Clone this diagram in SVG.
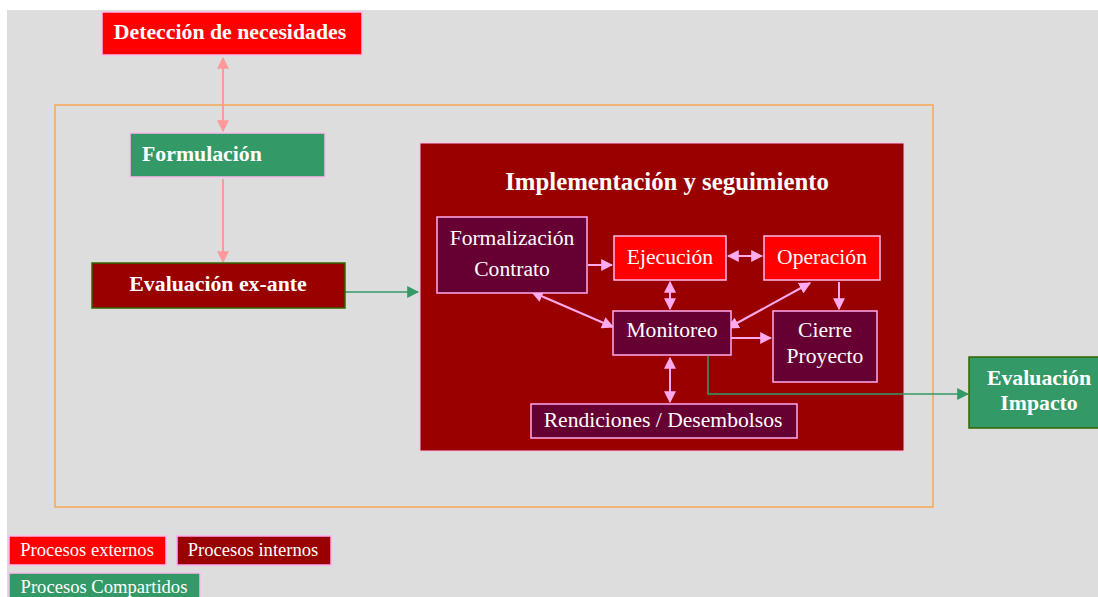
<svg xmlns="http://www.w3.org/2000/svg" width="1098" height="597" viewBox="0 0 1098 597" font-family="Liberation Serif, serif">
<defs>
<style>
.bt{font-weight:bold;fill:#ffffff;font-size:21.8px;}
.rt{fill:#ffffff;font-size:21.6px;}
.lg{fill:#ffffff;font-size:18.6px;}
.ext{fill:#ff0000;stroke:#ffbbee;stroke-width:1.5;}
.int{fill:#660033;stroke:#ffaaee;stroke-width:1.5;}
.sh{fill:#339966;stroke:#ffbbee;stroke-width:1.5;}
.pk{stroke:#ffaaee;stroke-width:2;fill:none;}
.sal{stroke:#ff9999;stroke-width:2;fill:none;}
.gr{stroke:#339966;stroke-width:1.5;fill:none;}
</style>
<marker id="mp" viewBox="0 0 10 10" refX="9" refY="5" markerWidth="12" markerHeight="12" markerUnits="userSpaceOnUse" orient="auto-start-reverse"><path d="M0,0 L10,5 L0,10 z" fill="#ffaaee"/></marker>
<marker id="ms" viewBox="0 0 10 10" refX="9" refY="5" markerWidth="12" markerHeight="12" markerUnits="userSpaceOnUse" orient="auto-start-reverse"><path d="M0,0 L10,5 L0,10 z" fill="#ff9999"/></marker>
<marker id="mg" viewBox="0 0 10 10" refX="9" refY="5" markerWidth="12" markerHeight="12" markerUnits="userSpaceOnUse" orient="auto-start-reverse"><path d="M0,0 L10,5 L0,10 z" fill="#339966"/></marker>
</defs>
<rect x="0" y="0" width="1098" height="597" fill="#ffffff"/>
<rect x="7" y="10" width="1091" height="587" fill="#dddddd"/>
<rect id="scope" x="55" y="105" width="878" height="402" fill="none" stroke="#ff9933" stroke-width="1.2"/>

<g id="impl">
<rect x="420" y="143" width="484" height="308" fill="#990000" stroke="#ffbbee" stroke-width="1"/>
<text class="bt" x="667" y="190" style="font-size:24.8px" text-anchor="middle">Implementación y seguimiento</text>
</g>

<g id="connectors">
<line class="sal" x1="223" y1="58" x2="223" y2="131" marker-start="url(#ms)" marker-end="url(#ms)"/>
<line class="sal" x1="223" y1="179" x2="223" y2="262" marker-end="url(#ms)"/>
<line class="gr" x1="345" y1="292" x2="418" y2="292" marker-end="url(#mg)"/>
<line class="pk" x1="588" y1="265" x2="612" y2="265" marker-end="url(#mp)"/>
<line class="pk" x1="728" y1="256" x2="762" y2="256" marker-start="url(#mp)" marker-end="url(#mp)"/>
<line class="pk" x1="670" y1="282" x2="670" y2="309" marker-start="url(#mp)" marker-end="url(#mp)"/>
<line class="pk" x1="532" y1="292" x2="613" y2="327" marker-start="url(#mp)" marker-end="url(#mp)"/>
<line class="pk" x1="810" y1="283" x2="728" y2="328" marker-start="url(#mp)" marker-end="url(#mp)"/>
<line class="pk" x1="839" y1="282" x2="839" y2="309" marker-end="url(#mp)"/>
<line class="pk" x1="727" y1="338" x2="771" y2="338" marker-end="url(#mp)"/>
<line class="pk" x1="670" y1="358" x2="670" y2="402" marker-start="url(#mp)" marker-end="url(#mp)"/>
<polyline class="gr" points="708,356 708,394 968,394" marker-end="url(#mg)"/>
</g>

<g id="deteccion">
<rect class="ext" x="102" y="12" width="260" height="43"/>
<text class="bt" x="230" y="39" text-anchor="middle">Detección de necesidades</text>
</g>
<g id="formulacion">
<rect class="sh" x="130" y="133" width="195" height="44"/>
<text class="bt" x="142" y="161">Formulación</text>
</g>
<g id="evaluacion-exante">
<rect x="92" y="263" width="253" height="45" fill="#990000" stroke="#336600" stroke-width="1.5"/>
<text class="bt" x="218" y="291" text-anchor="middle">Evaluación ex-ante</text>
</g>
<g id="formalizacion">
<rect class="int" x="437" y="217" width="150" height="76"/>
<text class="rt" x="512" y="245" text-anchor="middle">Formalización</text>
<text class="rt" x="512" y="276" text-anchor="middle">Contrato</text>
</g>
<g id="ejecucion">
<rect class="ext" x="614" y="236" width="112" height="44"/>
<text class="rt" x="670" y="264" text-anchor="middle">Ejecución</text>
</g>
<g id="operacion">
<rect class="ext" x="764" y="236" width="116" height="44"/>
<text class="rt" x="822" y="264" text-anchor="middle">Operación</text>
</g>
<g id="monitoreo">
<rect class="int" x="613" y="311" width="118" height="44"/>
<text class="rt" x="672" y="337" text-anchor="middle">Monitoreo</text>
</g>
<g id="cierre">
<rect class="int" x="773" y="311" width="104" height="71"/>
<text class="rt" x="825" y="337" text-anchor="middle">Cierre</text>
<text class="rt" x="825" y="363" text-anchor="middle">Proyecto</text>
</g>
<g id="rendiciones">
<rect class="int" x="531" y="404" width="266" height="34"/>
<text class="rt" x="663" y="427" text-anchor="middle">Rendiciones / Desembolsos</text>
</g>
<g id="evaluacion-impacto">
<rect x="969" y="357" width="135" height="71" fill="#339966" stroke="#336600" stroke-width="1.5"/>
<text class="bt" x="1039" y="385" text-anchor="middle">Evaluación</text>
<text class="bt" x="1039" y="410" text-anchor="middle">Impacto</text>
</g>

<g id="legend-externos">
<rect class="ext" x="9" y="536" width="157" height="29"/>
<text class="lg" x="87" y="556" text-anchor="middle">Procesos externos</text>
</g>
<g id="legend-internos">
<rect x="177" y="536" width="154" height="29" fill="#990000" stroke="#ffaaee" stroke-width="1.5"/>
<text class="lg" x="253" y="556" text-anchor="middle">Procesos internos</text>
</g>
<g id="legend-compartidos">
<rect class="sh" x="9" y="573" width="191" height="30"/>
<text class="lg" x="104" y="593" text-anchor="middle">Procesos Compartidos</text>
</g>
</svg>
